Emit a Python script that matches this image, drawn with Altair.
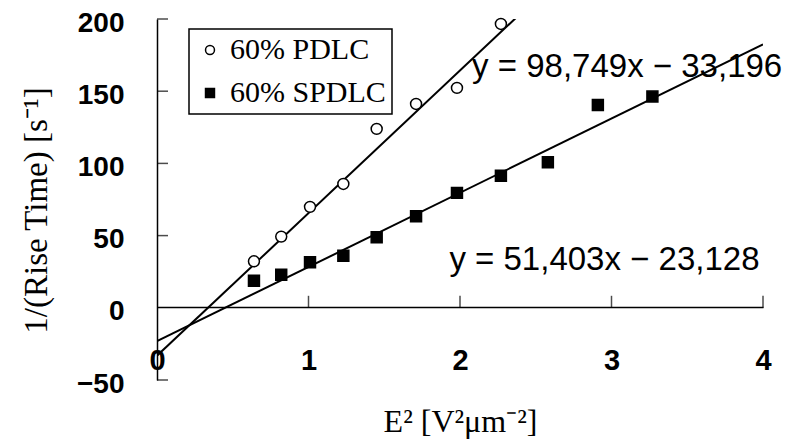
import altair as alt
import pandas as pd

# ---- data ----
e2 = [0.64, 0.82, 1.01, 1.23, 1.45, 1.71, 1.98, 2.27, 2.58, 2.91, 3.27]
pdlc = [32.2, 49.3, 69.9, 85.8, 123.9, 141.2, 152.3, 196.6]
spdlc = [18.8, 22.9, 31.5, 36.1, 48.8, 63.4, 79.6, 91.5, 100.8, 140.5, 146.3]
series = ["60% PDLC", "60% SPDLC"]
slopes = [98.749, 51.403]
intercepts = [-33.196, -23.128]
equations = ["y = 98,749x \u2212 33,196", "y = 51,403x \u2212 23,128"]
x_ticks = [0, 1, 2, 3, 4]
y_ticks = [-50, 0, 50, 100, 150, 200]
fit_range = [0, 4]

pts = pd.DataFrame({
    "x": e2[:len(pdlc)] + e2,
    "y": pdlc + spdlc,
    "s": [series[0]] * len(pdlc) + [series[1]] * len(spdlc),
})
fits = pd.DataFrame([
    {"x": xv, "y": m * xv + b, "s": s}
    for s, m, b in zip(series, slopes, intercepts)
    for xv in fit_range
])
yt = pd.DataFrame({"v": [v for v in y_ticks if v != 0]})
xt = pd.DataFrame({"v": [v for v in x_ticks if v != 0]})

SANS = "Liberation Sans"
SERIF = "Liberation Serif"

xscale = alt.Scale(domain=[0, 4], nice=False, zero=False)
yscale = alt.Scale(domain=[-50, 200], nice=False, zero=False)

xaxis = alt.Axis(
    values=x_ticks, orient="bottom", offset=-73, ticks=False, grid=False,
    labelPadding=39, labelFont=SANS, labelFontSize=29, labelFontWeight="bold",
    labelColor="black", labelFlush=False, labelOverlap=False, format="d",
    domainColor="black", domainWidth=1.5,
    title="E\u00b2 [V\u00b2\u03bcm\u207b\u00b2]", titleFont=SERIF, titleFontSize=32,
    titleFontWeight="normal", titleColor="black", titleY=124,
    titleBaseline="alphabetic",
)
yaxis = alt.Axis(
    values=y_ticks, orient="left", ticks=False, grid=False,
    labelPadding=33, labelFont=SANS, labelFontSize=28, labelFontWeight="bold",
    labelColor="black", labelFlush=False, labelOverlap=False, format="d",
    labelOffset=4,
    domainColor="black", domainWidth=1.5,
    title="1/(Rise Time) [s\u207b\u00b9]", titleFont=SERIF, titleFontSize=33,
    titleFontWeight="normal", titleColor="black", titleX=-111, titleY=191,
    titleAngle=-90, titleBaseline="alphabetic", titleAlign="center",
)

lines = alt.Chart(fits).mark_line(color="black", strokeWidth=2, clip=True).encode(
    x=alt.X("x:Q", scale=xscale, axis=xaxis),
    y=alt.Y("y:Q", scale=yscale, axis=yaxis),
    detail="s:N",
)

points = alt.Chart(pts).mark_point(size=120, strokeWidth=1.5, opacity=1,
                                   filled=True).encode(
    x=alt.X("x:Q", scale=xscale),
    y=alt.Y("y:Q", scale=yscale),
    shape=alt.Shape("s:N", scale=alt.Scale(domain=series, range=["circle", "square"]),
                    title=None),
    fill=alt.Fill("s:N", scale=alt.Scale(domain=series, range=["white", "black"]),
                  title=None),
    stroke=alt.Stroke("s:N", scale=alt.Scale(domain=series, range=["black", "black"]),
                      title=None),
)

yticks = alt.Chart(yt).mark_tick(orient="horizontal", size=11, thickness=1.5,
                                 color="black").encode(
    x=alt.datum(0, scale=xscale),
    y=alt.Y("v:Q", scale=yscale),
    xOffset=alt.value(5.5),
)
xticks = alt.Chart(xt).mark_tick(orient="vertical", size=12, thickness=1.5,
                                 color="black").encode(
    x=alt.X("v:Q", scale=xscale),
    y=alt.datum(0, scale=yscale),
    yOffset=alt.value(-6),
)

eq1 = alt.Chart(pd.DataFrame({"a": [0]})).mark_text(
    align="left", baseline="alphabetic", font=SANS, fontSize=33, color="black"
).encode(x=alt.datum(2.08), y=alt.datum(160), text=alt.value(equations[0]))
eq2 = alt.Chart(pd.DataFrame({"a": [0]})).mark_text(
    align="left", baseline="alphabetic", font=SANS, fontSize=33, color="black"
).encode(x=alt.datum(1.93), y=alt.datum(26), text=alt.value(equations[1]))

chart = alt.layer(lines, xticks, yticks, points, eq1, eq2).properties(
    width=606, height=361,
    autosize=alt.AutoSizeParams(type="none"),
    padding={"left": 149, "top": 11, "right": 22, "bottom": 59},
).configure_view(stroke=None).configure_legend(
    orient="none", legendX=32, legendY=10,
    strokeColor="black", strokeWidth=1.5, fillColor="white",
    padding=6, rowPadding=13, labelOffset=5, symbolOffset=0,
    labelFont=SERIF, labelFontSize=30, labelColor="black", labelLimit=300,
    symbolSize=80, symbolStrokeWidth=1.5,
)

chart.save("out.html", embed_options={"renderer": "svg", "actions": False})
